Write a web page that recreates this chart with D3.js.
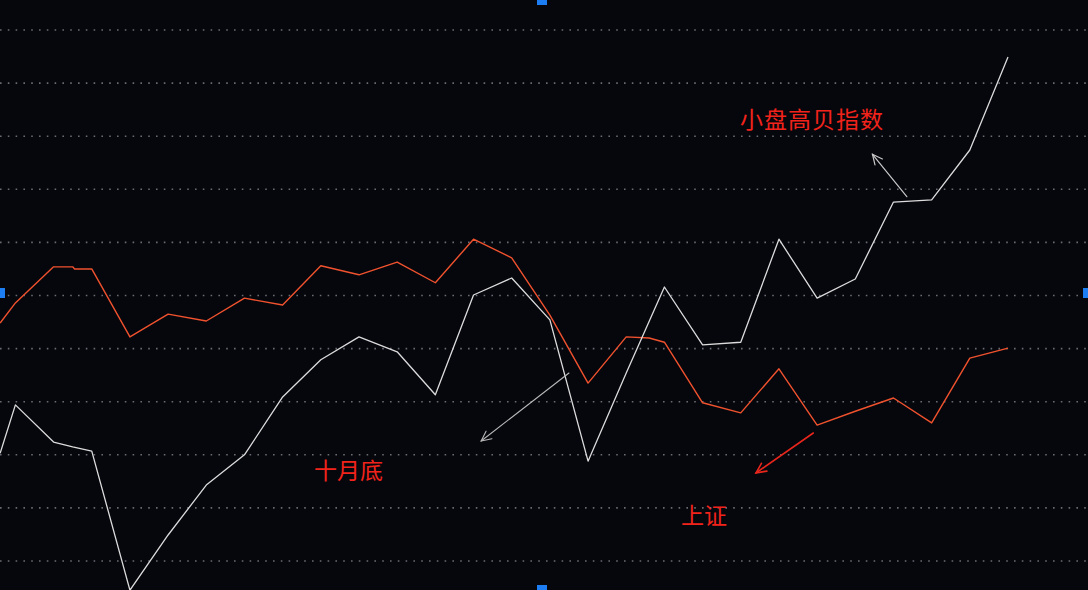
<!DOCTYPE html>
<html><head><meta charset="utf-8">
<script src="https://cdn.jsdelivr.net/npm/d3@7"></script>
<style>html,body{margin:0;padding:0;background:#06070d;overflow:hidden}</style>
</head><body><svg id="c" width="1088" height="590"></svg>
<script>
// x: trading-step index; values: relative level (gridline units of 10)
const steps = [-0.4,0,1,1.5,2,3,4,5,6,7,8,9,10,11,12,13,14,15,16,17,18,19,20,21,22,23,24,25,26];
const smallCapHighBeta = [20.3,29.4,22.4,21.5,20.7,-5.5,4.9,14.3,20.0,30.9,37.9,42.2,39.4,31.3,50.1,53.3,45.4,18.8,35.4,51.6,40.7,41.2,60.6,49.5,53.1,67.6,68.0,77.4,94.9];
const stepsSH = [-0.4,0,1,1.5,1.55,2,3,4,5,6,7,8,9,10,11,12,13,14,15,16,16.6,17,18,19,20,21,22,23,24,25,26];
const shanghai = [44.8,48.6,55.4,55.4,55.0,55.0,42.2,46.5,45.2,49.5,48.2,55.6,53.9,56.3,52.4,60.6,57.1,46.3,33.5,42.2,42.0,41.2,29.8,27.9,36.2,25.6,28.2,30.7,26.0,38.2,40.1];
const gridLevels = [0,10,20,30,40,50,60,70,80,90,100];
const labels = ["小盘高贝指数","十月底","上证"];
// annotation arrows in data units [fromStep, fromVal, toStep, toVal]
const arrowWhite1 = [23.35,68.6,22.45,76.6];
const arrowWhite2 = [14.5,35.4,12.2,22.6];
const arrowRed = [20.9,24.1,19.4,16.6];

const W=1088,H=590;
const svg=d3.select("#c");
svg.append("rect").attr("width",W).attr("height",H).attr("fill","#06070d");
const x=d3.scaleLinear().domain([0,26]).range([15.4,1008]);
const y=d3.scaleLinear().domain([0,100]).range([561,30]);

svg.append("g").selectAll("line").data(gridLevels).join("line")
  .attr("x1",0).attr("x2",W).attr("y1",d=>y(d)).attr("y2",d=>y(d))
  .attr("stroke","#8a8d96").attr("stroke-width",1.6).attr("stroke-dasharray","1.6,6.2").attr("opacity",0.75);

const line=d3.line().x(d=>x(d[0])).y(d=>y(d[1]));
svg.append("path").datum(stepsSH.map((s,i)=>[s,shanghai[i]])).attr("d",line)
  .attr("fill","none").attr("stroke","#f0522e").attr("stroke-width",1.4).attr("stroke-linejoin","round");
svg.append("path").datum(steps.map((s,i)=>[s,smallCapHighBeta[i]])).attr("d",line)
  .attr("fill","none").attr("stroke","#dcdcdc").attr("stroke-width",1.3).attr("stroke-linejoin","round");

function arrow(a,color,w){
  const x1=x(a[0]),y1=y(a[1]),x2=x(a[2]),y2=y(a[3]);
  const ang=Math.atan2(y2-y1,x2-x1),L=11,sp=0.45;
  const g=svg.append("g").attr("stroke",color).attr("stroke-width",w).attr("fill","none").attr("stroke-linecap","round");
  g.append("line").attr("x1",x1).attr("y1",y1).attr("x2",x2).attr("y2",y2);
  g.append("path").attr("d",`M${x2-L*Math.cos(ang-sp)},${y2-L*Math.sin(ang-sp)}L${x2},${y2}L${x2-L*Math.cos(ang+sp)},${y2-L*Math.sin(ang+sp)}`);
}
arrow(arrowWhite1,"#c8c8c8",1.2);
arrow(arrowWhite2,"#b8b8b8",1.1);
arrow(arrowRed,"#e8261c",1.6);

const tf="'Noto Sans CJK SC',sans-serif";
const pos=[[13,y(83.2)+9],[5.6,y(16.9)+8],[17.5,y(8.5)+8]];
svg.append("g").selectAll("text").data(labels).join("text")
  .attr("x",(d,i)=>x(pos[i][0])).attr("y",(d,i)=>pos[i][1])
  .attr("fill","#f2231b").attr("font-family",tf).attr("font-size",23)
  .attr("letter-spacing",(d,i)=>i===0?1:0).attr("text-anchor","start")
  .attr("x",(d,i)=>[740,314,681][i]).text(d=>d);

const handles=[[537,0,10,5],[537,585,10,5],[0,288,5,10],[1083,288,5,10]];
svg.append("g").selectAll("rect").data(handles).join("rect")
  .attr("x",d=>d[0]).attr("y",d=>d[1]).attr("width",d=>d[2]).attr("height",d=>d[3]).attr("fill","#1c7ef2");
</script></body></html>
